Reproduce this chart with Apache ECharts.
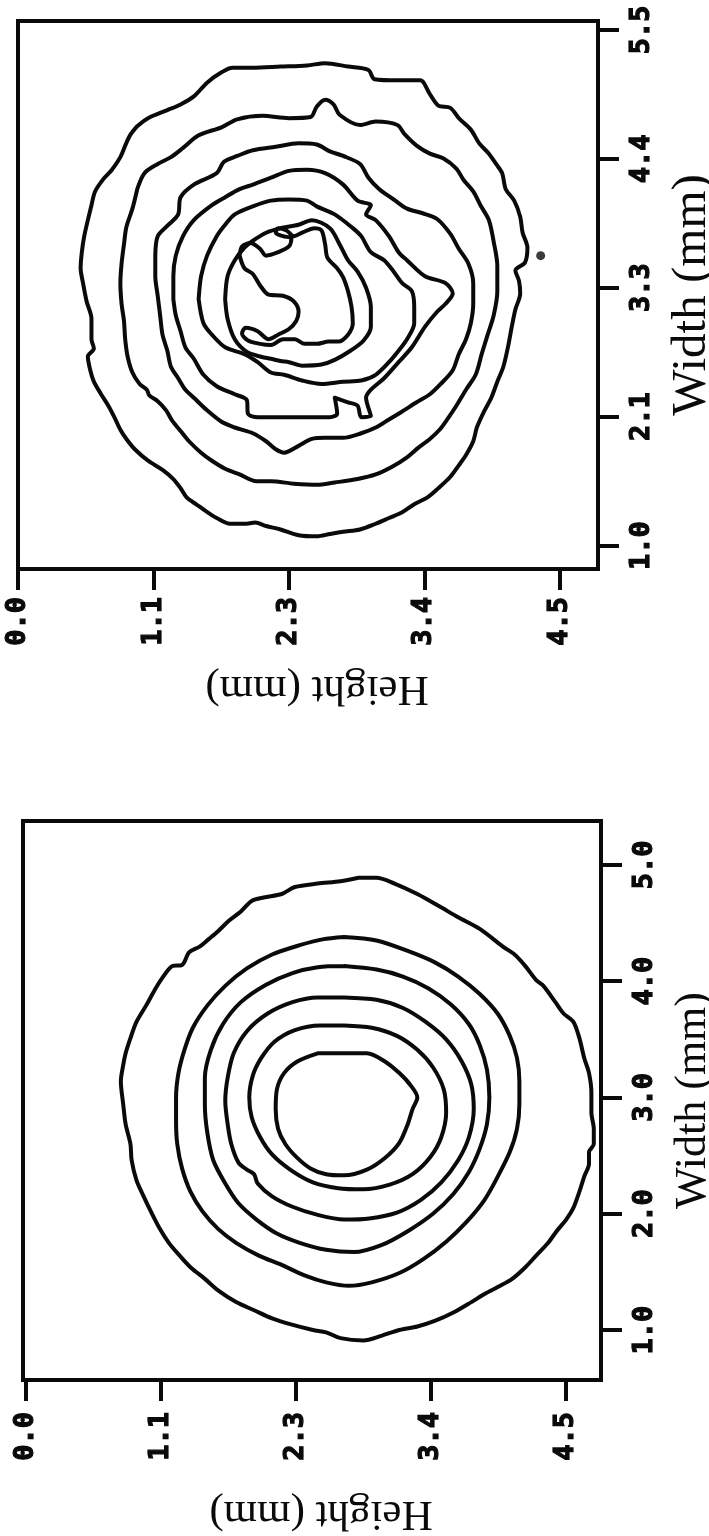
<!DOCTYPE html>
<html>
<head>
<meta charset="utf-8">
<script src="https://cdn.jsdelivr.net/npm/echarts@6/dist/echarts.min.js"></script>
<style>
  html, body { margin: 0; padding: 0; background: #ffffff; overflow: hidden; }
  #chart { width: 709px; height: 1536px; }
</style>
</head>
<body>
<div id="chart"></div>
<script>
// Tick positions (mm) and the labels printed at them
const heightTicks = [0, 1.125, 2.25, 3.375, 4.5];
const heightTickLabels = ['0.0', '1.1', '2.3', '3.4', '4.5'];
const topWidthTicks = [1, 2.125, 3.25, 4.375, 5.5];
const topWidthTickLabels = ['1.0', '2.1', '3.3', '4.4', '5.5'];
const bottomWidthTicks = [1, 2, 3, 4, 5];
const bottomWidthTickLabels = ['1.0', '2.0', '3.0', '4.0', '5.0'];

// Upper map: iso-lines as [height, width] in mm, outermost first
const topRing1 = [[0.99,4.66],[1.08,4.73],[1.24,4.80],[1.35,4.85],[1.46,4.92],[1.57,5.04],[1.69,5.13],[1.78,5.17],[1.95,5.17],[2.18,5.18],[2.40,5.19],[2.55,5.21],[2.74,5.18],[2.91,5.15],[2.96,5.07],[3.16,5.06],[3.34,5.06],[3.42,4.94],[3.49,4.84],[3.59,4.82],[3.66,4.73],[3.76,4.63],[3.83,4.51],[3.91,4.42],[3.97,4.33],[4.02,4.25],[4.05,4.11],[4.12,4.01],[4.17,3.87],[4.19,3.73],[4.23,3.60],[4.21,3.47],[4.13,3.40],[4.16,3.31],[4.17,3.20],[4.13,3.06],[4.10,2.91],[4.07,2.74],[4.03,2.56],[3.98,2.43],[3.93,2.29],[3.87,2.17],[3.81,2.03],[3.78,1.91],[3.72,1.79],[3.66,1.70],[3.59,1.60],[3.49,1.50],[3.40,1.42],[3.29,1.36],[3.19,1.29],[3.08,1.24],[2.97,1.19],[2.84,1.14],[2.70,1.12],[2.59,1.10],[2.48,1.08],[2.33,1.09],[2.18,1.14],[2.06,1.17],[1.97,1.20],[1.88,1.19],[1.76,1.19],[1.65,1.24],[1.56,1.30],[1.48,1.36],[1.40,1.42],[1.35,1.50],[1.29,1.58],[1.20,1.66],[1.08,1.74],[0.97,1.84],[0.90,1.93],[0.85,2.01],[0.80,2.12],[0.75,2.22],[0.69,2.32],[0.63,2.43],[0.60,2.53],[0.58,2.65],[0.63,2.72],[0.61,2.80],[0.61,2.98],[0.57,3.13],[0.54,3.29],[0.52,3.42],[0.53,3.56],[0.55,3.70],[0.58,3.84],[0.61,3.97],[0.64,4.09],[0.71,4.20],[0.78,4.28],[0.85,4.39],[0.89,4.49],[0.93,4.58]];
const topRing2 = [[0.99,4.11],[1.05,4.25],[1.16,4.33],[1.27,4.39],[1.37,4.47],[1.50,4.58],[1.69,4.65],[1.82,4.72],[2.03,4.75],[2.25,4.73],[2.43,4.74],[2.48,4.83],[2.55,4.89],[2.62,4.85],[2.67,4.76],[2.84,4.67],[2.97,4.70],[3.15,4.67],[3.21,4.59],[3.31,4.49],[3.42,4.42],[3.53,4.38],[3.64,4.29],[3.70,4.19],[3.78,4.09],[3.84,3.97],[3.91,3.84],[3.95,3.65],[3.98,3.44],[3.98,3.22],[3.95,3.01],[3.90,2.84],[3.85,2.67],[3.80,2.49],[3.72,2.36],[3.64,2.22],[3.57,2.11],[3.50,2.01],[3.42,1.93],[3.32,1.85],[3.23,1.77],[3.11,1.69],[2.97,1.62],[2.82,1.58],[2.63,1.55],[2.48,1.53],[2.29,1.54],[2.10,1.56],[1.98,1.56],[1.84,1.62],[1.72,1.67],[1.61,1.74],[1.52,1.81],[1.42,1.91],[1.35,2.00],[1.28,2.09],[1.23,2.18],[1.16,2.26],[1.09,2.31],[1.07,2.36],[1.01,2.41],[0.95,2.51],[0.91,2.65],[0.89,2.80],[0.88,2.96],[0.86,3.11],[0.85,3.29],[0.86,3.46],[0.88,3.63],[0.90,3.78],[0.95,3.94]];
const topRing3 = [[1.14,3.53],[1.16,3.70],[1.25,3.80],[1.33,3.89],[1.35,4.04],[1.46,4.15],[1.65,4.25],[1.71,4.35],[1.82,4.40],[1.95,4.45],[2.14,4.48],[2.33,4.51],[2.48,4.50],[2.59,4.44],[2.70,4.40],[2.84,4.33],[2.91,4.21],[3.00,4.11],[3.12,4.02],[3.23,3.94],[3.36,3.90],[3.48,3.85],[3.59,3.72],[3.66,3.59],[3.74,3.46],[3.78,3.29],[3.78,3.11],[3.76,2.94],[3.72,2.80],[3.66,2.67],[3.61,2.53],[3.51,2.41],[3.42,2.32],[3.31,2.25],[3.19,2.17],[3.08,2.10],[2.97,2.03],[2.85,1.98],[2.70,1.94],[2.55,1.94],[2.44,1.93],[2.33,1.87],[2.21,1.81],[2.14,1.84],[2.06,1.91],[1.95,1.98],[1.80,2.03],[1.69,2.08],[1.57,2.18],[1.46,2.29],[1.39,2.36],[1.33,2.46],[1.27,2.56],[1.24,2.70],[1.20,2.84],[1.18,3.01],[1.16,3.18],[1.14,3.35]];
const topRing4 = [[1.29,3.15],[1.29,3.35],[1.31,3.53],[1.37,3.70],[1.46,3.84],[1.61,3.97],[1.72,4.04],[1.84,4.11],[1.95,4.15],[2.10,4.21],[2.25,4.27],[2.40,4.28],[2.55,4.25],[2.70,4.15],[2.82,4.01],[2.93,3.97],[2.89,3.89],[2.97,3.84],[3.08,3.70],[3.16,3.56],[3.23,3.49],[3.38,3.35],[3.55,3.29],[3.61,3.20],[3.55,3.11],[3.48,3.04],[3.38,2.91],[3.27,2.73],[3.16,2.60],[3.04,2.46],[2.93,2.36],[2.89,2.29],[2.93,2.13],[2.85,2.12],[2.82,2.22],[2.74,2.25],[2.63,2.29],[2.65,2.15],[2.59,2.12],[2.40,2.12],[2.18,2.12],[1.99,2.12],[1.91,2.15],[1.90,2.27],[1.80,2.32],[1.65,2.39],[1.54,2.49],[1.46,2.63],[1.39,2.73],[1.35,2.87],[1.31,3.01]];
const topRing5 = [[1.50,3.15],[1.52,3.35],[1.57,3.53],[1.65,3.70],[1.72,3.80],[1.80,3.89],[1.95,3.96],[2.10,4.01],[2.25,4.02],[2.40,4.01],[2.48,3.96],[2.63,3.89],[2.78,3.77],[2.85,3.70],[2.93,3.56],[3.04,3.49],[3.12,3.39],[3.19,3.29],[3.27,3.22],[3.29,3.08],[3.29,2.94],[3.23,2.80],[3.16,2.70],[3.08,2.60],[2.97,2.49],[2.85,2.44],[2.70,2.43],[2.52,2.41],[2.36,2.44],[2.21,2.49],[2.10,2.51],[1.99,2.60],[1.88,2.67],[1.72,2.73],[1.61,2.84],[1.54,2.94]];
const topRing6 = [[1.72,3.15],[1.74,3.35],[1.80,3.49],[1.88,3.60],[1.95,3.66],[2.06,3.73],[2.18,3.77],[2.33,3.80],[2.44,3.84],[2.59,3.77],[2.67,3.63],[2.74,3.49],[2.82,3.39],[2.89,3.25],[2.93,3.08],[2.93,2.91],[2.87,2.79],[2.76,2.70],[2.63,2.62],[2.52,2.58],[2.36,2.57],[2.25,2.60],[2.18,2.61],[2.10,2.63],[2.01,2.65],[1.90,2.69],[1.80,2.80],[1.74,2.98]];
const topRing7 = [[1.84,3.53],[1.86,3.61],[1.93,3.64],[2.01,3.59],[2.06,3.53],[2.16,3.56],[2.25,3.61],[2.27,3.68],[2.20,3.70],[2.14,3.73],[2.16,3.77],[2.23,3.75],[2.29,3.70],[2.36,3.73],[2.46,3.77],[2.52,3.75],[2.55,3.63],[2.57,3.51],[2.65,3.42],[2.70,3.34],[2.74,3.22],[2.77,3.08],[2.78,2.94],[2.74,2.84],[2.66,2.78],[2.58,2.78],[2.48,2.76],[2.38,2.76],[2.30,2.80],[2.20,2.80],[2.10,2.75],[2.01,2.76],[1.91,2.79],[1.86,2.85],[1.89,2.90],[1.99,2.87],[2.08,2.80],[2.16,2.84],[2.25,2.89],[2.31,2.96],[2.33,3.04],[2.29,3.13],[2.20,3.18],[2.08,3.19],[2.01,3.27],[1.95,3.37],[1.88,3.42]];
const topDot = [[4.34, 3.53]];

// Lower map: iso-lines as [height, width] in mm, outermost first
const bottomRing1 = [[2.77,4.89],[2.92,4.89],[3.07,4.84],[3.26,4.75],[3.45,4.64],[3.60,4.55],[3.78,4.45],[3.97,4.30],[4.07,4.23],[4.16,4.13],[4.25,4.01],[4.31,3.96],[4.41,3.82],[4.48,3.72],[4.56,3.65],[4.61,3.51],[4.65,3.34],[4.69,3.21],[4.71,3.04],[4.71,2.87],[4.73,2.73],[4.73,2.60],[4.69,2.53],[4.69,2.43],[4.65,2.32],[4.61,2.19],[4.56,2.05],[4.50,1.95],[4.42,1.85],[4.35,1.75],[4.25,1.64],[4.16,1.54],[4.05,1.44],[3.93,1.37],[3.82,1.31],[3.71,1.24],[3.56,1.15],[3.41,1.08],[3.26,1.03],[3.11,1.00],[2.96,0.95],[2.81,0.91],[2.62,0.93],[2.50,0.98],[2.39,1.00],[2.20,1.05],[2.05,1.10],[1.90,1.17],[1.75,1.24],[1.60,1.34],[1.49,1.44],[1.37,1.54],[1.28,1.64],[1.19,1.75],[1.11,1.88],[1.04,2.02],[0.98,2.15],[0.92,2.29],[0.88,2.46],[0.87,2.60],[0.83,2.77],[0.81,2.94],[0.79,3.14],[0.81,3.28],[0.83,3.38],[0.87,3.51],[0.92,3.65],[1.00,3.79],[1.07,3.92],[1.13,4.02],[1.22,4.13],[1.30,4.14],[1.36,4.25],[1.45,4.30],[1.52,4.36],[1.60,4.43],[1.69,4.52],[1.79,4.60],[1.88,4.69],[1.98,4.72],[2.13,4.75],[2.24,4.81],[2.43,4.84],[2.62,4.86]];
const bottomRing2 = [[2.65,4.38],[2.92,4.35],[3.18,4.26],[3.41,4.16],[3.60,4.04],[3.78,3.89],[3.93,3.72],[4.03,3.53],[4.09,3.34],[4.11,3.14],[4.11,2.94],[4.09,2.73],[4.03,2.53],[3.93,2.32],[3.82,2.12],[3.67,1.93],[3.50,1.76],[3.31,1.61],[3.11,1.49],[2.88,1.41],[2.69,1.38],[2.50,1.41],[2.32,1.47],[2.13,1.56],[1.94,1.64],[1.75,1.75],[1.60,1.87],[1.47,2.02],[1.37,2.19],[1.30,2.39],[1.26,2.60],[1.25,2.80],[1.25,3.00],[1.27,3.21],[1.32,3.41],[1.39,3.60],[1.51,3.79],[1.66,3.96],[1.84,4.11],[2.05,4.23],[2.28,4.31],[2.47,4.36]];
const bottomRing3 = [[2.65,4.13],[2.92,4.10],[3.14,4.04],[3.35,3.94],[3.54,3.80],[3.69,3.63],[3.78,3.45],[3.84,3.24],[3.86,3.00],[3.84,2.77],[3.78,2.56],[3.69,2.36],[3.56,2.17],[3.39,2.00],[3.18,1.85],[2.96,1.73],[2.73,1.67],[2.50,1.69],[2.28,1.75],[2.09,1.83],[1.92,1.95],[1.77,2.09],[1.66,2.26],[1.56,2.46],[1.51,2.70],[1.49,2.94],[1.49,3.17],[1.54,3.41],[1.64,3.63],[1.79,3.82],[2.00,3.97],[2.22,4.07],[2.43,4.12]];
const bottomRing4 = [[2.65,3.86],[2.92,3.84],[3.14,3.77],[3.33,3.65],[3.50,3.50],[3.63,3.31],[3.71,3.11],[3.73,2.90],[3.69,2.66],[3.60,2.46],[3.46,2.27],[3.29,2.12],[3.09,2.01],[2.86,1.96],[2.65,1.95],[2.43,1.99],[2.22,2.06],[2.05,2.15],[1.93,2.26],[1.90,2.34],[1.84,2.38],[1.77,2.44],[1.71,2.60],[1.68,2.77],[1.66,2.97],[1.68,3.17],[1.73,3.38],[1.84,3.57],[2.01,3.72],[2.22,3.82],[2.43,3.86]];
const bottomRing5 = [[2.65,3.62],[2.88,3.60],[3.09,3.53],[3.26,3.41],[3.39,3.26],[3.48,3.07],[3.50,2.87],[3.46,2.66],[3.37,2.49],[3.22,2.34],[3.03,2.25],[2.81,2.21],[2.60,2.22],[2.39,2.27],[2.20,2.38],[2.05,2.51],[1.95,2.66],[1.88,2.83],[1.86,3.00],[1.89,3.19],[1.96,3.34],[2.07,3.48],[2.24,3.58],[2.45,3.62]];
const bottomRing6 = [[2.43,3.38],[2.65,3.38],[2.84,3.38],[2.99,3.31],[3.11,3.21],[3.20,3.11],[3.26,3.00],[3.22,2.90],[3.18,2.77],[3.11,2.61],[2.99,2.48],[2.84,2.38],[2.65,2.33],[2.50,2.34],[2.37,2.39],[2.26,2.48],[2.16,2.60],[2.10,2.73],[2.08,2.90],[2.09,3.07],[2.15,3.21],[2.26,3.31]];

// Axis extents (mm) of the two frames
const topHeightRange = [0, 4.816];
const topWidthRange = [0.795, 5.578];
const bottomHeightRange = [-0.025, 4.79];
const bottomWidthRange = [0.57, 5.378];

const INK = '#0a0a0a';
const tickFont = { fontFamily: 'DejaVu Sans Mono', fontWeight: 'bold', fontSize: 27, color: INK,
                   textBorderColor: INK, textBorderWidth: 1.2 };
const nameFont = { fontFamily: 'Liberation Serif', color: INK };
const tickStyle = { color: INK, width: 4 };

function labelFrom(ticks, labels) {
  return function (v) {
    const i = ticks.findIndex(function (t) { return Math.abs(t - v) < 1e-6; });
    return i >= 0 ? labels[i] : '';
  };
}

function heightAxis(gridIndex, range, margin, gap) {
  return {
    type: 'value', gridIndex: gridIndex, position: 'bottom',
    min: range[0], max: range[1],
    name: 'Height (mm)', nameLocation: 'middle', nameRotate: 180, nameGap: gap,
    nameTextStyle: Object.assign({ fontSize: 43, padding: [0, 18, 0, 0] }, nameFont),
    axisLine: { show: true, onZero: false, lineStyle: tickStyle },
    splitLine: { show: false },
    axisTick: { show: false },
    axisLabel: Object.assign({ show: true, rotate: 90, margin: margin, customValues: heightTicks,
                formatter: labelFrom(heightTicks, heightTickLabels) }, tickFont)
  };
}

// companion axis that only carries the outward Height tick marks
function heightTickAxis(gridIndex, range) {
  return {
    type: 'value', gridIndex: gridIndex, position: 'bottom', offset: 0,
    min: range[0], max: range[1], interval: 1.125,
    axisLine: { show: false, onZero: false },
    splitLine: { show: false },
    axisLabel: { show: false },
    axisTick: { show: true, inside: false, length: 21, customValues: heightTicks, lineStyle: tickStyle }
  };
}

function widthAxis(gridIndex, range, ticks, labels, fontSize, gap) {
  return {
    type: 'value', gridIndex: gridIndex, position: 'right',
    min: range[0], max: range[1],
    name: 'Width (mm)', nameLocation: 'middle', nameRotate: 90, nameGap: gap,
    nameTextStyle: Object.assign({ fontSize: fontSize }, nameFont),
    axisLine: { show: true, onZero: false, lineStyle: tickStyle },
    splitLine: { show: false },
    axisTick: { show: true, inside: false, length: 21, customValues: ticks, lineStyle: tickStyle },
    axisLabel: Object.assign({ show: true, rotate: 90, margin: 30, customValues: ticks,
                formatter: labelFrom(ticks, labels) }, tickFont)
  };
}

function ring(points, gridIndex) {
  return {
    type: 'line', xAxisIndex: gridIndex, yAxisIndex: gridIndex,
    data: points.concat([points[0]]),
    showSymbol: false, symbol: 'none', smooth: 0.3, silent: true,
    lineStyle: { color: INK, width: 4, join: 'round', cap: 'round' }
  };
}

const frame = { show: true, borderColor: INK, borderWidth: 4, backgroundColor: 'transparent',
                containLabel: false, outerBoundsMode: 'none' };

const chart = echarts.init(document.getElementById('chart'), null, { renderer: 'canvas' });
chart.setOption({
  animation: false,
  backgroundColor: '#ffffff',
  grid: [
    Object.assign({ left: 18, top: 21, width: 580, height: 548 }, frame),
    Object.assign({ left: 23, top: 821, width: 578, height: 559 }, frame)
  ],
  xAxis: [
    heightAxis(0, topHeightRange, 28, 98),
    heightAxis(1, bottomHeightRange, 32, 112),
    heightTickAxis(0, topHeightRange),
    heightTickAxis(1, bottomHeightRange)
  ],
  yAxis: [
    widthAxis(0, topWidthRange, topWidthTicks, topWidthTickLabels, 49, 70),
    widthAxis(1, bottomWidthRange, bottomWidthTicks, bottomWidthTickLabels, 44, 70)
  ],
  series: [
    ring(topRing1, 0), ring(topRing2, 0), ring(topRing3, 0), ring(topRing4, 0),
    ring(topRing5, 0), ring(topRing6, 0), ring(topRing7, 0),
    { type: 'scatter', xAxisIndex: 0, yAxisIndex: 0, data: topDot, symbolSize: 9,
      itemStyle: { color: INK }, silent: true },
    ring(bottomRing1, 1), ring(bottomRing2, 1), ring(bottomRing3, 1),
    ring(bottomRing4, 1), ring(bottomRing5, 1), ring(bottomRing6, 1)
  ]
});
</script>
</body>
</html>
